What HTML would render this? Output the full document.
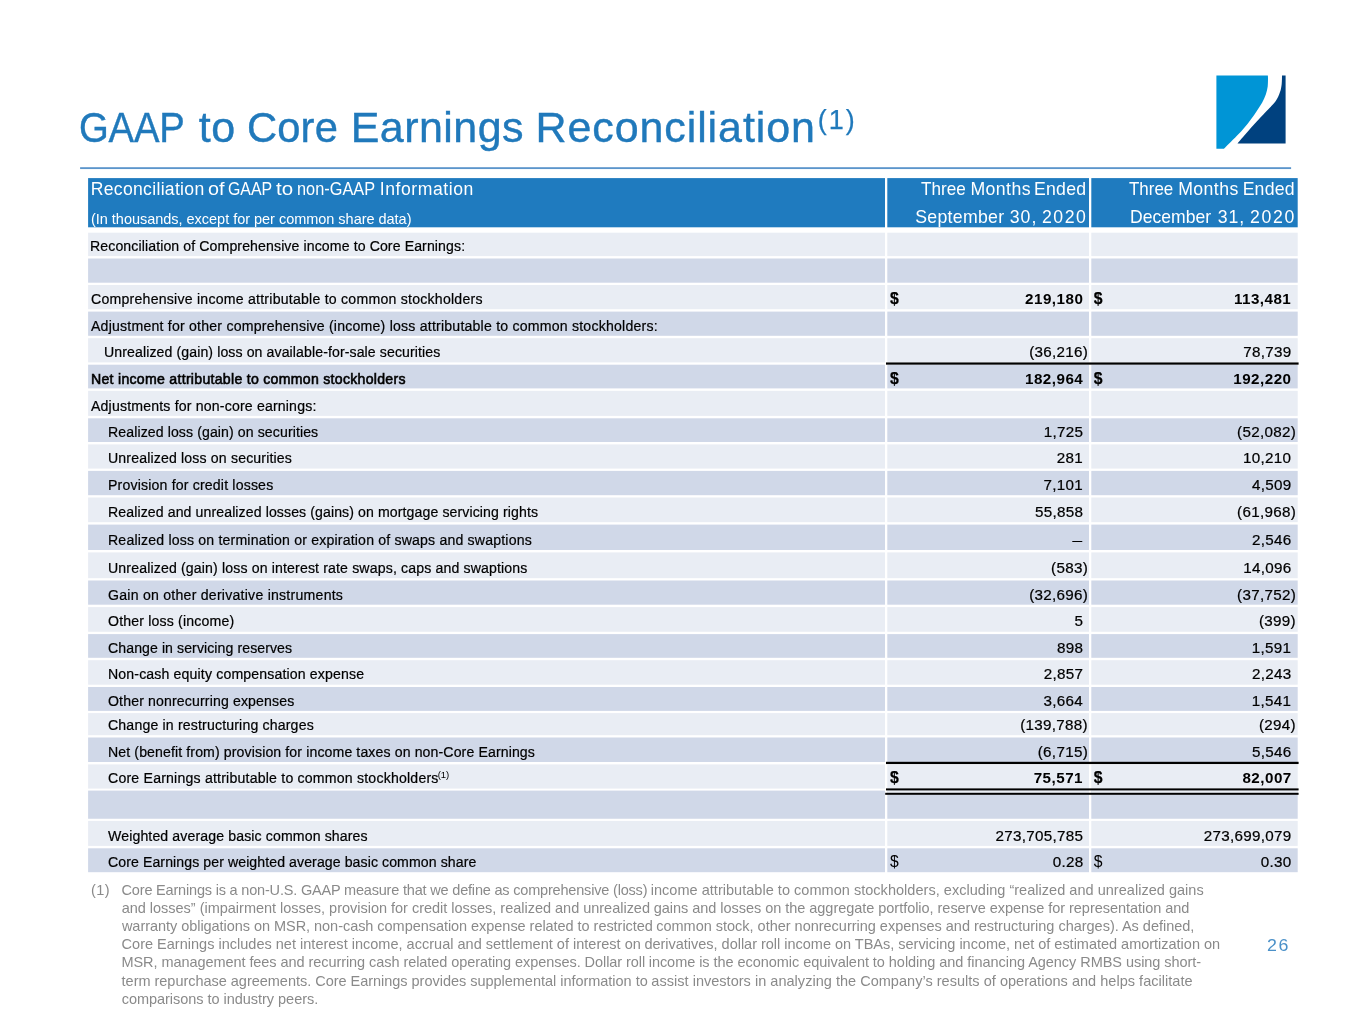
<!DOCTYPE html>
<html lang="en"><head><meta charset="utf-8"><title>GAAP to Core Earnings Reconciliation</title>
<style>
html,body{margin:0;padding:0;background:#fff;}
body{width:1365px;height:1024px;position:relative;overflow:hidden;font-family:"Liberation Sans",sans-serif;color:#000;}
.abs{position:absolute;}
.t{position:absolute;white-space:nowrap;line-height:1;}
.k{-webkit-text-stroke:0.22px #000;}
</style></head><body>
<svg class="abs" style="left:0;top:0;" width="1365" height="1024" viewBox="0 0 1365 1024">
<rect x="80.10" y="167.20" width="1211.00" height="1.85" fill="#5b95cb"/>
<rect x="88.10" y="178.10" width="796.90" height="49.20" fill="#1f7bbf"/>
<rect x="887.30" y="178.10" width="201.70" height="49.20" fill="#1f7bbf"/>
<rect x="1091.30" y="178.10" width="206.40" height="49.20" fill="#1f7bbf"/>
<rect x="88.10" y="232.70" width="796.90" height="23.40" fill="#e9edf4"/>
<rect x="887.30" y="232.70" width="201.70" height="23.40" fill="#e9edf4"/>
<rect x="1091.30" y="232.70" width="206.40" height="23.40" fill="#e9edf4"/>
<rect x="88.10" y="258.50" width="796.90" height="24.20" fill="#d0d8e8"/>
<rect x="887.30" y="258.50" width="201.70" height="24.20" fill="#d0d8e8"/>
<rect x="1091.30" y="258.50" width="206.40" height="24.20" fill="#d0d8e8"/>
<rect x="88.10" y="285.00" width="796.90" height="24.25" fill="#e9edf4"/>
<rect x="887.30" y="285.00" width="201.70" height="24.25" fill="#e9edf4"/>
<rect x="1091.30" y="285.00" width="206.40" height="24.25" fill="#e9edf4"/>
<rect x="88.10" y="311.60" width="796.90" height="24.20" fill="#d0d8e8"/>
<rect x="887.30" y="311.60" width="201.70" height="24.20" fill="#d0d8e8"/>
<rect x="1091.30" y="311.60" width="206.40" height="24.20" fill="#d0d8e8"/>
<rect x="88.10" y="338.20" width="796.90" height="24.20" fill="#e9edf4"/>
<rect x="887.30" y="338.20" width="201.70" height="24.20" fill="#e9edf4"/>
<rect x="1091.30" y="338.20" width="206.40" height="24.20" fill="#e9edf4"/>
<rect x="88.10" y="364.70" width="796.90" height="23.70" fill="#d0d8e8"/>
<rect x="887.30" y="364.70" width="201.70" height="23.70" fill="#d0d8e8"/>
<rect x="1091.30" y="364.70" width="206.40" height="23.70" fill="#d0d8e8"/>
<rect x="88.10" y="390.80" width="796.90" height="25.10" fill="#e9edf4"/>
<rect x="887.30" y="390.80" width="201.70" height="25.10" fill="#e9edf4"/>
<rect x="1091.30" y="390.80" width="206.40" height="25.10" fill="#e9edf4"/>
<rect x="88.10" y="418.30" width="796.90" height="23.70" fill="#d0d8e8"/>
<rect x="887.30" y="418.30" width="201.70" height="23.70" fill="#d0d8e8"/>
<rect x="1091.30" y="418.30" width="206.40" height="23.70" fill="#d0d8e8"/>
<rect x="88.10" y="444.40" width="796.90" height="24.20" fill="#e9edf4"/>
<rect x="887.30" y="444.40" width="201.70" height="24.20" fill="#e9edf4"/>
<rect x="1091.30" y="444.40" width="206.40" height="24.20" fill="#e9edf4"/>
<rect x="88.10" y="470.90" width="796.90" height="24.30" fill="#d0d8e8"/>
<rect x="887.30" y="470.90" width="201.70" height="24.30" fill="#d0d8e8"/>
<rect x="1091.30" y="470.90" width="206.40" height="24.30" fill="#d0d8e8"/>
<rect x="88.10" y="497.50" width="796.90" height="24.70" fill="#e9edf4"/>
<rect x="887.30" y="497.50" width="201.70" height="24.70" fill="#e9edf4"/>
<rect x="1091.30" y="497.50" width="206.40" height="24.70" fill="#e9edf4"/>
<rect x="88.10" y="524.60" width="796.90" height="25.40" fill="#d0d8e8"/>
<rect x="887.30" y="524.60" width="201.70" height="25.40" fill="#d0d8e8"/>
<rect x="1091.30" y="524.60" width="206.40" height="25.40" fill="#d0d8e8"/>
<rect x="88.10" y="552.40" width="796.90" height="25.80" fill="#e9edf4"/>
<rect x="887.30" y="552.40" width="201.70" height="25.80" fill="#e9edf4"/>
<rect x="1091.30" y="552.40" width="206.40" height="25.80" fill="#e9edf4"/>
<rect x="88.10" y="580.50" width="796.90" height="24.20" fill="#d0d8e8"/>
<rect x="887.30" y="580.50" width="201.70" height="24.20" fill="#d0d8e8"/>
<rect x="1091.30" y="580.50" width="206.40" height="24.20" fill="#d0d8e8"/>
<rect x="88.10" y="607.10" width="796.90" height="24.65" fill="#e9edf4"/>
<rect x="887.30" y="607.10" width="201.70" height="24.65" fill="#e9edf4"/>
<rect x="1091.30" y="607.10" width="206.40" height="24.65" fill="#e9edf4"/>
<rect x="88.10" y="634.10" width="796.90" height="23.70" fill="#d0d8e8"/>
<rect x="887.30" y="634.10" width="201.70" height="23.70" fill="#d0d8e8"/>
<rect x="1091.30" y="634.10" width="206.40" height="23.70" fill="#d0d8e8"/>
<rect x="88.10" y="660.20" width="796.90" height="24.50" fill="#e9edf4"/>
<rect x="887.30" y="660.20" width="201.70" height="24.50" fill="#e9edf4"/>
<rect x="1091.30" y="660.20" width="206.40" height="24.50" fill="#e9edf4"/>
<rect x="88.10" y="687.00" width="796.90" height="23.90" fill="#d0d8e8"/>
<rect x="887.30" y="687.00" width="201.70" height="23.90" fill="#d0d8e8"/>
<rect x="1091.30" y="687.00" width="206.40" height="23.90" fill="#d0d8e8"/>
<rect x="88.10" y="713.10" width="796.90" height="22.10" fill="#e9edf4"/>
<rect x="887.30" y="713.10" width="201.70" height="22.10" fill="#e9edf4"/>
<rect x="1091.30" y="713.10" width="206.40" height="22.10" fill="#e9edf4"/>
<rect x="88.10" y="737.50" width="796.90" height="24.50" fill="#d0d8e8"/>
<rect x="887.30" y="737.50" width="201.70" height="24.50" fill="#d0d8e8"/>
<rect x="1091.30" y="737.50" width="206.40" height="24.50" fill="#d0d8e8"/>
<rect x="88.10" y="764.40" width="796.90" height="24.20" fill="#e9edf4"/>
<rect x="887.30" y="764.40" width="201.70" height="24.20" fill="#e9edf4"/>
<rect x="1091.30" y="764.40" width="206.40" height="24.20" fill="#e9edf4"/>
<rect x="88.10" y="790.60" width="796.90" height="28.15" fill="#d0d8e8"/>
<rect x="887.30" y="790.60" width="201.70" height="28.15" fill="#d0d8e8"/>
<rect x="1091.30" y="790.60" width="206.40" height="28.15" fill="#d0d8e8"/>
<rect x="88.10" y="820.90" width="796.90" height="25.00" fill="#e9edf4"/>
<rect x="887.30" y="820.90" width="201.70" height="25.00" fill="#e9edf4"/>
<rect x="1091.30" y="820.90" width="206.40" height="25.00" fill="#e9edf4"/>
<rect x="88.10" y="848.30" width="796.90" height="23.90" fill="#d0d8e8"/>
<rect x="887.30" y="848.30" width="201.70" height="23.90" fill="#d0d8e8"/>
<rect x="1091.30" y="848.30" width="206.40" height="23.90" fill="#d0d8e8"/>
<rect x="886.00" y="362.45" width="412.60" height="2.20" fill="#000"/>
<rect x="886.00" y="761.80" width="412.60" height="2.25" fill="#000"/>
<rect x="887.30" y="788.40" width="201.70" height="6.40" fill="#e9edf4"/>
<rect x="1091.30" y="788.40" width="206.40" height="6.40" fill="#e9edf4"/>
<rect x="886.00" y="788.40" width="412.60" height="2.00" fill="#000"/>
<rect x="885.20" y="792.80" width="413.40" height="2.00" fill="#000"/>
<path d="M1216.4 75.6 L1267.8 75.6 C1267.9 76.0 1268.0 76.4 1268.0 78.2 C1268.0 80.0 1268.0 83.7 1267.7 86.4 C1267.3 89.1 1266.7 91.9 1265.8 94.6 C1264.9 97.3 1263.6 100.1 1262.1 102.8 C1260.6 105.5 1258.6 108.3 1256.8 111.0 C1254.9 113.8 1253.1 116.5 1251.0 119.2 C1249.0 122.0 1246.8 124.7 1244.5 127.4 C1242.1 130.2 1239.7 132.9 1237.1 135.6 C1234.5 138.4 1231.1 141.6 1228.9 143.8 C1226.7 146.0 1224.8 147.9 1223.9 148.8 L1216.4 148.8 Z" fill="#0095d6"/>
<path d="M1237.5 143.6 C1239.7 141.0 1246.2 133.3 1251.0 127.8 C1255.9 122.4 1262.5 115.5 1266.6 111.0 C1270.7 106.6 1273.4 104.3 1275.6 101.2 C1277.9 98.0 1279.0 95.0 1280.0 92.1 C1281.0 89.3 1281.4 86.7 1281.7 83.9 C1282.0 81.2 1282.0 77.0 1282.0 75.6 L1285.6 75.6 L1285.6 143.6 Z" fill="#00417f"/>
</svg>
<div class="t" id="tw0" style="left:78.71px;top:106px;font-size:43px;letter-spacing:-0.171px;color:#2079bb;transform:scaleX(0.89);transform-origin:0 0;-webkit-text-stroke:0.4px #2079bb;">GAAP</div>
<div class="t" id="tw1" style="left:198.84px;top:106px;font-size:43px;letter-spacing:0.532px;color:#2079bb;-webkit-text-stroke:0.4px #2079bb;">to</div>
<div class="t" id="tw2" style="left:247.39px;top:106px;font-size:43px;letter-spacing:0.153px;color:#2079bb;transform:scaleX(0.97);transform-origin:0 0;-webkit-text-stroke:0.4px #2079bb;">Core</div>
<div class="t" id="tw3" style="left:350.76px;top:106px;font-size:43px;letter-spacing:0.442px;color:#2079bb;-webkit-text-stroke:0.4px #2079bb;">Earnings</div>
<div class="t" id="tw4" style="left:535.46px;top:106px;font-size:43px;letter-spacing:0.907px;color:#2079bb;-webkit-text-stroke:0.4px #2079bb;">Reconciliation</div>
<div class="t" id="tsup" style="left:817.71px;top:107px;font-size:27px;letter-spacing:1.998px;color:#2079bb;-webkit-text-stroke:0.25px #2079bb;">(1)</div>
<div class="t" id="h1_0" style="left:90.75px;top:181px;font-size:17.6px;letter-spacing:0.301px;color:#fff;">Reconciliation</div>
<div class="t" id="h1_1" style="left:207.78px;top:181px;font-size:17.6px;color:#fff;transform:scaleX(1.1229);transform-origin:0 0;">of</div>
<div class="t" id="h1_2" style="left:228.42px;top:181px;font-size:17.6px;color:#fff;transform:scaleX(0.9033);transform-origin:0 0;">GAAP</div>
<div class="t" id="h1_3" style="left:275.99px;top:181px;font-size:17.6px;color:#fff;transform:scaleX(1.1646);transform-origin:0 0;">to</div>
<div class="t" id="h1_4" style="left:296.86px;top:181px;font-size:17.6px;color:#fff;transform:scaleX(0.928);transform-origin:0 0;">non-GAAP</div>
<div class="t" id="h1_5" style="left:379.77px;top:181px;font-size:17.6px;letter-spacing:0.553px;color:#fff;">Information</div>
<div class="t" id="h2" style="left:91.02px;top:212px;font-size:14.5px;letter-spacing:-0.024px;color:#fff;">(In thousands, except for per common share data)</div>
<div class="t" id="h3_0" style="left:920.82px;top:181px;font-size:17.7px;color:#fff;transform:scaleX(0.9686);transform-origin:0 0;">Three</div>
<div class="t" id="h3_1" style="left:970.39px;top:181px;font-size:17.7px;letter-spacing:0.426px;color:#fff;">Months</div>
<div class="t" id="h3_2" style="left:1034.04px;top:181px;font-size:17.7px;letter-spacing:0.216px;color:#fff;">Ended</div>
<div class="t" id="h4_0" style="left:915.26px;top:209px;font-size:17.7px;letter-spacing:0.291px;color:#fff;">September</div>
<div class="t" id="h4_1" style="left:1009.66px;top:209px;font-size:17.7px;letter-spacing:1.050px;color:#fff;">30,</div>
<div class="t" id="h4_2" style="left:1041.94px;top:209px;font-size:17.7px;letter-spacing:1.543px;color:#fff;">2020</div>
<div class="t" id="h5_0" style="left:1129.12px;top:181px;font-size:17.7px;color:#fff;transform:scaleX(0.9575);transform-origin:0 0;">Three</div>
<div class="t" id="h5_1" style="left:1178.19px;top:181px;font-size:17.7px;letter-spacing:0.426px;color:#fff;">Months</div>
<div class="t" id="h5_2" style="left:1242.64px;top:181px;font-size:17.7px;letter-spacing:0.191px;color:#fff;">Ended</div>
<div class="t" id="h6_0" style="left:1130.25px;top:209px;font-size:17.7px;color:#fff;transform:scaleX(0.9931);transform-origin:0 0;">December</div>
<div class="t" id="h6_1" style="left:1217.76px;top:209px;font-size:17.7px;letter-spacing:0.900px;color:#fff;">31,</div>
<div class="t" id="h6_2" style="left:1250.04px;top:209px;font-size:17.7px;letter-spacing:1.677px;color:#fff;">2020</div>
<div class="t k" id="l0" style="left:90.47px;top:238px;font-size:15.2px;letter-spacing:0.104px;transform:scaleX(0.93);transform-origin:0 0;">Reconciliation of Comprehensive income to Core Earnings:</div>
<div class="t k" id="l2" style="left:90.54px;top:291px;font-size:15.2px;letter-spacing:0.240px;transform:scaleX(0.93);transform-origin:0 0;">Comprehensive income attributable to common stockholders</div>
<div class="t" id="d2_0" style="left:889.97px;top:291px;font-size:15.7px;font-weight:700;-webkit-text-stroke:0.25px #000;">$</div>
<div class="t" id="v2_0" style="left:1025.08px;top:291px;font-size:15.2px;letter-spacing:0.480px;font-weight:700;">219,180</div>
<div class="t" id="d2_1" style="left:1093.87px;top:291px;font-size:15.7px;font-weight:700;-webkit-text-stroke:0.25px #000;">$</div>
<div class="t" id="v2_1" style="left:1233.89px;top:291px;font-size:15.2px;letter-spacing:0.480px;font-weight:700;">113,481</div>
<div class="t k" id="l3" style="left:90.79px;top:318px;font-size:15.2px;letter-spacing:0.219px;transform:scaleX(0.93);transform-origin:0 0;">Adjustment for other comprehensive (income) loss attributable to common stockholders:</div>
<div class="t k" id="l4" style="left:103.57px;top:344px;font-size:15.2px;letter-spacing:0.100px;transform:scaleX(0.93);transform-origin:0 0;">Unrealized (gain) loss on available-for-sale securities</div>
<div class="t k" id="v4_0" style="left:1029.18px;top:344px;font-size:15.2px;letter-spacing:0.300px;">(36,216)</div>
<div class="t k" id="v4_1" style="left:1243.26px;top:344px;font-size:15.2px;letter-spacing:0.300px;">78,739</div>
<div class="t k" id="l5" style="left:90.77px;top:371px;font-size:15.2px;letter-spacing:0.293px;transform:scaleX(0.93);transform-origin:0 0;-webkit-text-stroke:0.6px #000;">Net income attributable to common stockholders</div>
<div class="t" id="d5_0" style="left:889.97px;top:371px;font-size:15.7px;font-weight:700;-webkit-text-stroke:0.25px #000;">$</div>
<div class="t" id="v5_0" style="left:1024.99px;top:371px;font-size:15.2px;letter-spacing:0.480px;font-weight:700;">182,964</div>
<div class="t" id="d5_1" style="left:1093.87px;top:371px;font-size:15.7px;font-weight:700;-webkit-text-stroke:0.25px #000;">$</div>
<div class="t" id="v5_1" style="left:1233.28px;top:371px;font-size:15.2px;letter-spacing:0.480px;font-weight:700;">192,220</div>
<div class="t k" id="l6" style="left:90.79px;top:398px;font-size:15.2px;letter-spacing:0.179px;transform:scaleX(0.93);transform-origin:0 0;">Adjustments for non-core earnings:</div>
<div class="t k" id="l7" style="left:107.82px;top:424px;font-size:15.2px;letter-spacing:0.095px;transform:scaleX(0.93);transform-origin:0 0;">Realized loss (gain) on securities</div>
<div class="t k" id="v7_0" style="left:1043.69px;top:424px;font-size:15.2px;letter-spacing:0.300px;">1,725</div>
<div class="t k" id="v7_1" style="left:1237.08px;top:424px;font-size:15.2px;letter-spacing:0.300px;">(52,082)</div>
<div class="t k" id="l8" style="left:107.82px;top:450px;font-size:15.2px;letter-spacing:0.159px;transform:scaleX(0.93);transform-origin:0 0;">Unrealized loss on securities</div>
<div class="t k" id="v8_0" style="left:1056.71px;top:450px;font-size:15.2px;letter-spacing:0.300px;">281</div>
<div class="t k" id="v8_1" style="left:1243.06px;top:450px;font-size:15.2px;letter-spacing:0.300px;">10,210</div>
<div class="t k" id="l9" style="left:107.82px;top:477px;font-size:15.2px;letter-spacing:0.177px;transform:scaleX(0.93);transform-origin:0 0;">Provision for credit losses</div>
<div class="t k" id="v9_0" style="left:1043.60px;top:477px;font-size:15.2px;letter-spacing:0.300px;">7,101</div>
<div class="t k" id="v9_1" style="left:1251.93px;top:477px;font-size:15.2px;letter-spacing:0.300px;">4,509</div>
<div class="t k" id="l10" style="left:107.82px;top:504px;font-size:15.2px;letter-spacing:0.098px;transform:scaleX(0.93);transform-origin:0 0;">Realized and unrealized losses (gains) on mortgage servicing rights</div>
<div class="t k" id="v10_0" style="left:1035.09px;top:504px;font-size:15.2px;letter-spacing:0.300px;">55,858</div>
<div class="t k" id="v10_1" style="left:1237.08px;top:504px;font-size:15.2px;letter-spacing:0.300px;">(61,968)</div>
<div class="t k" id="l11" style="left:107.82px;top:532px;font-size:15.2px;letter-spacing:0.181px;transform:scaleX(0.93);transform-origin:0 0;">Realized loss on termination or expiration of swaps and swaptions</div>
<div class="t" id="v11_0" style="left:1066.82px;top:532px;font-size:15.2px;transform:scaleX(0.66);transform-origin:100% 50%;">—</div>
<div class="t k" id="v11_1" style="left:1251.90px;top:532px;font-size:15.2px;letter-spacing:0.300px;">2,546</div>
<div class="t k" id="l12" style="left:107.82px;top:560px;font-size:15.2px;letter-spacing:0.148px;transform:scaleX(0.93);transform-origin:0 0;">Unrealized (gain) loss on interest rate swaps, caps and swaptions</div>
<div class="t k" id="v12_0" style="left:1051.08px;top:560px;font-size:15.2px;letter-spacing:0.300px;">(583)</div>
<div class="t k" id="v12_1" style="left:1243.27px;top:560px;font-size:15.2px;letter-spacing:0.300px;">14,096</div>
<div class="t k" id="l13" style="left:107.89px;top:587px;font-size:15.2px;letter-spacing:0.247px;transform:scaleX(0.93);transform-origin:0 0;">Gain on other derivative instruments</div>
<div class="t k" id="v13_0" style="left:1029.18px;top:587px;font-size:15.2px;letter-spacing:0.300px;">(32,696)</div>
<div class="t k" id="v13_1" style="left:1237.08px;top:587px;font-size:15.2px;letter-spacing:0.300px;">(37,752)</div>
<div class="t k" id="l14" style="left:107.92px;top:613px;font-size:15.2px;letter-spacing:0.176px;transform:scaleX(0.93);transform-origin:0 0;">Other loss (income)</div>
<div class="t k" id="v14_0" style="left:1074.53px;top:613px;font-size:15.2px;letter-spacing:0.300px;">5</div>
<div class="t k" id="v14_1" style="left:1258.98px;top:613px;font-size:15.2px;letter-spacing:0.300px;">(399)</div>
<div class="t k" id="l15" style="left:107.89px;top:640px;font-size:15.2px;letter-spacing:0.078px;transform:scaleX(0.93);transform-origin:0 0;">Change in servicing reserves</div>
<div class="t k" id="v15_0" style="left:1056.99px;top:640px;font-size:15.2px;letter-spacing:0.300px;">898</div>
<div class="t k" id="v15_1" style="left:1251.80px;top:640px;font-size:15.2px;letter-spacing:0.300px;">1,591</div>
<div class="t k" id="l16" style="left:107.82px;top:666px;font-size:15.2px;letter-spacing:0.148px;transform:scaleX(0.93);transform-origin:0 0;">Non-cash equity compensation expense</div>
<div class="t k" id="v16_0" style="left:1043.69px;top:666px;font-size:15.2px;letter-spacing:0.300px;">2,857</div>
<div class="t k" id="v16_1" style="left:1251.93px;top:666px;font-size:15.2px;letter-spacing:0.300px;">2,243</div>
<div class="t k" id="l17" style="left:107.92px;top:693px;font-size:15.2px;letter-spacing:0.139px;transform:scaleX(0.93);transform-origin:0 0;">Other nonrecurring expenses</div>
<div class="t k" id="v17_0" style="left:1043.42px;top:693px;font-size:15.2px;letter-spacing:0.300px;">3,664</div>
<div class="t k" id="v17_1" style="left:1251.80px;top:693px;font-size:15.2px;letter-spacing:0.300px;">1,541</div>
<div class="t k" id="l18" style="left:107.89px;top:717px;font-size:15.2px;letter-spacing:0.169px;transform:scaleX(0.93);transform-origin:0 0;">Change in restructuring charges</div>
<div class="t k" id="v18_0" style="left:1020.18px;top:717px;font-size:15.2px;letter-spacing:0.300px;">(139,788)</div>
<div class="t k" id="v18_1" style="left:1258.98px;top:717px;font-size:15.2px;letter-spacing:0.300px;">(294)</div>
<div class="t k" id="l19" style="left:107.82px;top:744px;font-size:15.2px;letter-spacing:0.114px;transform:scaleX(0.93);transform-origin:0 0;">Net (benefit from) provision for income taxes on non-Core Earnings</div>
<div class="t k" id="v19_0" style="left:1037.78px;top:744px;font-size:15.2px;letter-spacing:0.300px;">(6,715)</div>
<div class="t k" id="v19_1" style="left:1251.90px;top:744px;font-size:15.2px;letter-spacing:0.300px;">5,546</div>
<div class="t k" id="l20" style="left:107.89px;top:770px;font-size:15.2px;letter-spacing:0.209px;transform:scaleX(0.93);transform-origin:0 0;">Core Earnings attributable to common stockholders</div>
<div class="t" id="lsup" style="left:437.79px;top:770px;font-size:9.5px;letter-spacing:-0.100px;">(1)</div>
<div class="t" id="d20_0" style="left:889.97px;top:770px;font-size:15.7px;font-weight:700;-webkit-text-stroke:0.25px #000;">$</div>
<div class="t" id="v20_0" style="left:1033.70px;top:770px;font-size:15.2px;letter-spacing:0.480px;font-weight:700;">75,571</div>
<div class="t" id="d20_1" style="left:1093.87px;top:770px;font-size:15.7px;font-weight:700;-webkit-text-stroke:0.25px #000;">$</div>
<div class="t" id="v20_1" style="left:1242.42px;top:770px;font-size:15.2px;letter-spacing:0.480px;font-weight:700;">82,007</div>
<div class="t k" id="l22" style="left:108.12px;top:828px;font-size:15.2px;letter-spacing:0.122px;transform:scaleX(0.93);transform-origin:0 0;">Weighted average basic common shares</div>
<div class="t k" id="v22_0" style="left:995.53px;top:828px;font-size:15.2px;letter-spacing:0.300px;">273,705,785</div>
<div class="t k" id="v22_1" style="left:1203.76px;top:828px;font-size:15.2px;letter-spacing:0.300px;">273,699,079</div>
<div class="t k" id="l23" style="left:107.89px;top:854px;font-size:15.2px;letter-spacing:0.083px;transform:scaleX(0.93);transform-origin:0 0;">Core Earnings per weighted average basic common share</div>
<div class="t" id="d23_0" style="left:889.95px;top:854px;font-size:15.7px;">$</div>
<div class="t k" id="v23_0" style="left:1052.69px;top:854px;font-size:15.2px;letter-spacing:0.300px;">0.28</div>
<div class="t" id="d23_1" style="left:1093.85px;top:854px;font-size:15.7px;">$</div>
<div class="t k" id="v23_1" style="left:1260.66px;top:854px;font-size:15.2px;letter-spacing:0.300px;">0.30</div>
<div class="t" id="fn0" style="left:91.02px;top:883px;font-size:14.5px;letter-spacing:0.392px;color:#8a8a8a;">(1)</div>
<div class="t" id="f0a" style="left:121.59px;top:883px;font-size:14.5px;letter-spacing:-0.187px;color:#8a8a8a;">Core Earnings is a non-U.S. GAAP measure that we define as comprehensive (loss)</div>
<div class="t" id="f0b" style="left:650.73px;top:883px;font-size:14.5px;letter-spacing:0.030px;color:#8a8a8a;">income attributable to common stockholders, excluding “realized and unrealized gains</div>
<div class="t" id="f1a" style="left:121.66px;top:901px;font-size:14.5px;letter-spacing:-0.014px;color:#8a8a8a;">and losses” (impairment losses, provision for credit losses, realized and unrealized</div>
<div class="t" id="f1b" style="left:653.77px;top:901px;font-size:14.5px;letter-spacing:-0.035px;color:#8a8a8a;">gains and losses on the aggregate portfolio, reserve expense for representation and</div>
<div class="t" id="f2a" style="left:121.94px;top:919px;font-size:14.5px;letter-spacing:-0.044px;color:#8a8a8a;">warranty obligations on MSR, non-cash compensation expense related to restricted</div>
<div class="t" id="f2b" style="left:656.28px;top:919px;font-size:14.5px;letter-spacing:-0.014px;color:#8a8a8a;">common stock, other nonrecurring expenses and restructuring charges). As defined,</div>
<div class="t" id="f3a" style="left:121.59px;top:937px;font-size:14.5px;letter-spacing:0.012px;color:#8a8a8a;">Core Earnings includes net interest income, accrual and settlement of interest on</div>
<div class="t" id="f3b" style="left:644.39px;top:937px;font-size:14.5px;letter-spacing:-0.012px;color:#8a8a8a;">derivatives, dollar roll income on TBAs, servicing income, net of estimated amortization on</div>
<div class="t" id="f4a" style="left:121.50px;top:955px;font-size:14.5px;letter-spacing:-0.065px;color:#8a8a8a;">MSR, management fees and recurring cash related operating expenses. Dollar roll</div>
<div class="t" id="f4b" style="left:648.73px;top:955px;font-size:14.5px;letter-spacing:-0.045px;color:#8a8a8a;">income is the economic equivalent to holding and financing Agency RMBS using short-</div>
<div class="t" id="f5a" style="left:121.60px;top:974px;font-size:14.5px;letter-spacing:-0.023px;color:#8a8a8a;">term repurchase agreements. Core Earnings provides supplemental information to</div>
<div class="t" id="f5b" style="left:651.36px;top:974px;font-size:14.5px;letter-spacing:0.026px;color:#8a8a8a;">assist investors in analyzing the Company’s results of operations and helps facilitate</div>
<div class="t" id="f6" style="left:121.68px;top:992px;font-size:14.5px;letter-spacing:-0.031px;color:#8a8a8a;">comparisons to industry peers.</div>
<div class="t" id="pg" style="left:1266.77px;top:937px;font-size:16.2px;letter-spacing:1.385px;color:#4a90c8;transform:scaleX(1.1);transform-origin:0 0;">26</div>
</body></html>
